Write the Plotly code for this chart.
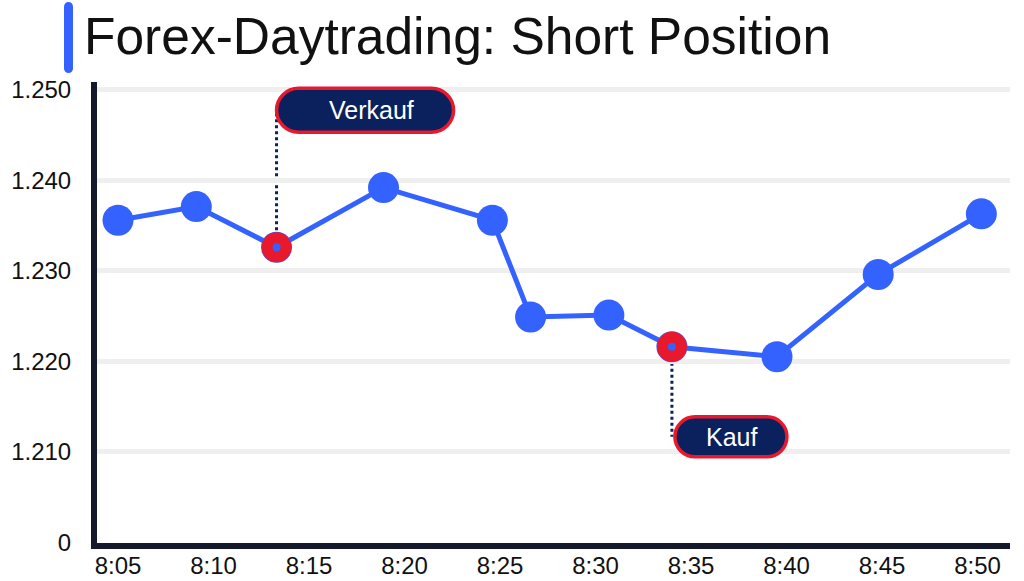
import plotly.graph_objects as go

# ---- data ----
title_text = "Forex-Daytrading: Short Position"
minutes = [5.0, 9.1, 13.3, 18.9, 24.6, 26.6, 30.7, 34.0, 39.5, 44.8, 50.2]   # minutes after 8:00
prices = [1.2356, 1.2371, 1.2326, 1.2392, 1.2356, 1.2249, 1.2251, 1.2216, 1.2205, 1.2296, 1.2363]
signal_idx = [2, 7]
signal_labels = ["Verkauf", "Kauf"]
x_tickvals = [5, 10, 15, 20, 25, 30, 35, 40, 45, 50]
x_ticktext = ["8:05", "8:10", "8:15", "8:20", "8:25", "8:30", "8:35", "8:40", "8:45", "8:50"]
y_tickvals = [1.200, 1.210, 1.220, 1.230, 1.240, 1.250]
y_ticktext = ["0", "1.210", "1.220", "1.230", "1.240", "1.250"]

BLUE = "#3462FF"
RED = "#E8192C"
NAVY = "#0B215E"
AXIS = "#141A2B"
GRID = "#EFEFEF"
FONT = "Liberation Sans"


def rrect(x0, x1, y0, y1):
    w, h = abs(x1 - x0), abs(y1 - y0)
    r = min(w, h) / 2.0
    k = 0.5523 * r
    xa, xb = min(x0, x1), max(x0, x1)
    ya, yb = min(y0, y1), max(y0, y1)
    return (f"M{xa + r},{ya} L{xb - r},{ya} "
            f"C{xb - r + k},{ya} {xb},{ya + r - k} {xb},{ya + r} "
            f"L{xb},{yb - r} "
            f"C{xb},{yb - r + k} {xb - r + k},{yb} {xb - r},{yb} "
            f"L{xa + r},{yb} "
            f"C{xa + r - k},{yb} {xa},{yb - r + k} {xa},{yb - r} "
            f"L{xa},{ya + r} "
            f"C{xa},{ya + r - k} {xa + r - k},{ya} {xa + r},{ya} Z")


fig = go.Figure()

fig.add_trace(go.Scatter(
    x=minutes, y=prices, mode="lines+markers",
    line=dict(color=BLUE, width=5),
    marker=dict(color=BLUE, size=31),
    hoverinfo="skip", showlegend=False,
))

sx = [minutes[i] for i in signal_idx]
sy = [prices[i] for i in signal_idx]
fig.add_trace(go.Scatter(
    x=sx, y=sy, mode="markers",
    marker=dict(color=BLUE, size=19, line=dict(color=RED, width=11)),
    hoverinfo="skip", showlegend=False,
))

# label boxes (pixel offsets relative to the signal points)
box_specs = [
    dict(box=(0, 177, 115, 159), line=(11, 136), text=(95, 137), size=25),
    dict(box=(3, 115, -70, -110), line=(-16, -90), text=(60, -90), size=25),
]
shapes = []
annotations = []
for (xv, yv, lab, spec) in zip(sx, sy, signal_labels, box_specs):
    shapes.append(dict(
        type="line", xref="x", yref="y", xsizemode="pixel", ysizemode="pixel",
        xanchor=xv, yanchor=yv, x0=0, x1=0, y0=spec["line"][0], y1=spec["line"][1],
        line=dict(color=NAVY, width=3, dash="dot"), layer="below"))
    bx0, bx1, by0, by1 = spec["box"]
    shapes.append(dict(
        type="path", xref="x", yref="y", xsizemode="pixel", ysizemode="pixel",
        xanchor=xv, yanchor=yv, path=rrect(bx0, bx1, by0, by1),
        fillcolor=NAVY, line=dict(color=RED, width=3.5), layer="above"))
    annotations.append(dict(
        x=xv, y=yv, xref="x", yref="y", text=lab, showarrow=False,
        xshift=spec["text"][0], yshift=spec["text"][1],
        xanchor="center", yanchor="middle",
        font=dict(family=FONT, size=spec["size"], color="white")))

# title bar and title
shapes.append(dict(
    type="path", xref="paper", yref="paper", xsizemode="pixel", ysizemode="pixel",
    xanchor=0, yanchor=1, path=rrect(-33, -24, 9, 80),
    fillcolor=BLUE, line=dict(width=0), layer="above"))
annotations.append(dict(
    x=0, y=1, xref="paper", yref="paper", text=title_text, showarrow=False,
    xanchor="left", yanchor="middle", xshift=-15, yshift=46,
    font=dict(family=FONT, size=51.5, color="#111111")))

fig.update_layout(
    width=1024, height=581,
    margin=dict(l=97, r=14, t=82, b=38, autoexpand=False),
    paper_bgcolor="white", plot_bgcolor="white",
    shapes=shapes, annotations=annotations,
    xaxis=dict(
        range=[3.9, 51.7], tickvals=x_tickvals, ticktext=x_ticktext,
        showgrid=False, zeroline=False, showline=True, linewidth=6, linecolor=AXIS,
        ticks="", ticklabelstandoff=-4, automargin=False,
        tickfont=dict(family=FONT, size=24, color="#111111"),
    ),
    yaxis=dict(
        range=[1.1999, 1.25088], tickvals=y_tickvals, ticktext=y_ticktext,
        showgrid=True, gridcolor=GRID, gridwidth=5, zeroline=False,
        showline=True, linewidth=6, linecolor=AXIS,
        ticks="", ticklabelstandoff=15, automargin=False,
        tickfont=dict(family=FONT, size=24, color="#111111"),
    ),
)

fig.write_html("out.html", config={"displayModeBar": False},
               post_script="document.body.style.margin='0';")
